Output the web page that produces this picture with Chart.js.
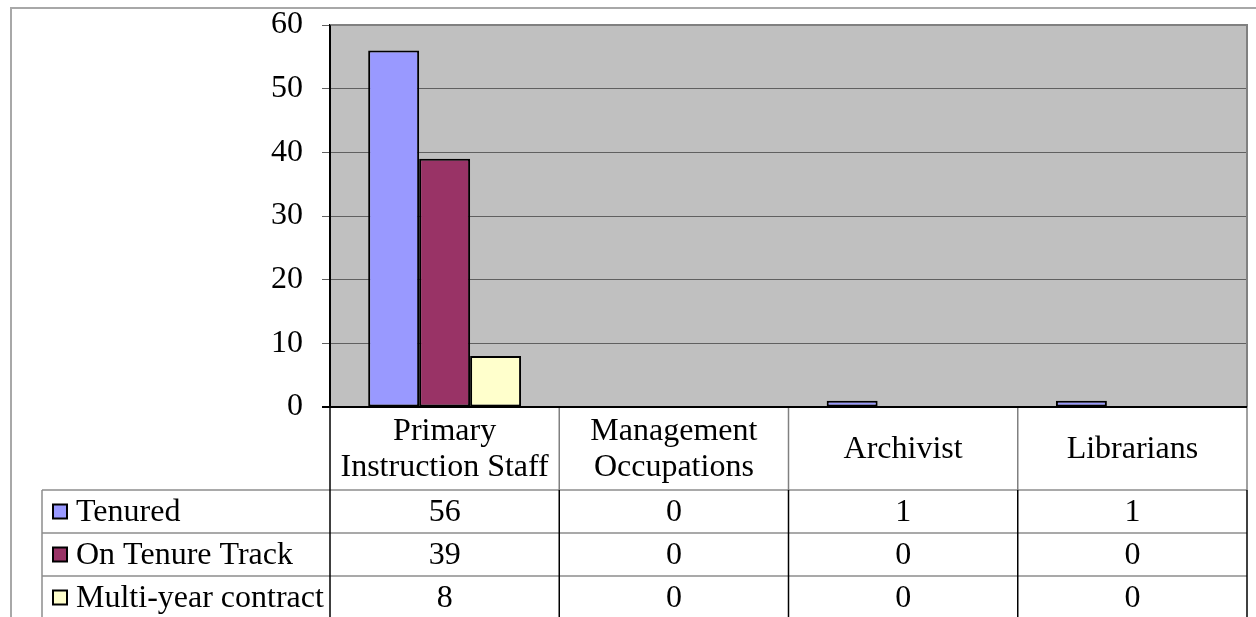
<!DOCTYPE html>
<html>
<head>
<meta charset="utf-8">
<script src="https://cdn.jsdelivr.net/npm/chart.js@4/dist/chart.umd.min.js"></script>
<style>
  body { margin: 0; background: #fff; }
  #wrap { width: 1256px; height: 617px; }
</style>
</head>
<body>
<div id="wrap"><canvas id="Chart1" width="1256" height="617"></canvas></div>
<script>
var categories = [['Primary', 'Instruction Staff'], ['Management', 'Occupations'], ['Archivist'], ['Librarians']];
var seriesNames = ['Tenured', 'On Tenure Track', 'Multi-year contract'];
var tenured = [56, 0, 1, 1];
var onTenureTrack = [39, 0, 0, 0];
var multiYear = [8, 0, 0, 0];
var yMin = 0, yMax = 60, yStep = 10;

var seriesColors = ['#9999ff', '#993366', '#ffffcc'];
var fontFamily = '"Liberation Serif", "Times New Roman", serif';
var fontSize = 32;

// table geometry below the plot
var tableLeft = 42;
var headerBottom = 490;
var rowHeight = 43;

var tablePlugin = {
  id: 'dataTable',
  beforeDraw: function (chart) {
    var ctx = chart.ctx, a = chart.chartArea;
    ctx.save();
    ctx.fillStyle = '#fff';
    ctx.fillRect(0, 0, chart.width, chart.height);
    ctx.fillStyle = '#c0c0c0';
    ctx.fillRect(a.left, a.top, a.right - a.left, a.bottom - a.top);
    ctx.restore();
  },
  afterDraw: function (chart) {
    var ctx = chart.ctx, a = chart.chartArea;
    var xs = chart.scales.x;
    var n = categories.length;
    var colW = (a.right - a.left) / n;
    var rows = [tenured, onTenureTrack, multiYear];
    var bottom = chart.height + 2;

    ctx.save();

    // outer frame
    ctx.strokeStyle = '#a8a8a8';
    ctx.lineWidth = 2;
    ctx.beginPath();
    ctx.moveTo(11, chart.height);
    ctx.lineTo(11, 8);
    ctx.lineTo(chart.width, 8);
    ctx.stroke();

    // plot frame top / right
    ctx.strokeStyle = '#808080';
    ctx.beginPath();
    ctx.moveTo(a.left, a.top);
    ctx.lineTo(a.right, a.top);
    ctx.lineTo(a.right, a.bottom);
    ctx.stroke();

    // horizontal table lines
    ctx.strokeStyle = '#8c8c8c';
    ctx.lineWidth = 1.5;
    for (var r = 0; r < rows.length; r++) {
      var y = headerBottom + r * rowHeight;
      ctx.beginPath();
      ctx.moveTo(tableLeft, y);
      ctx.lineTo(a.right, y);
      ctx.stroke();
    }
    ctx.beginPath();
    ctx.moveTo(tableLeft, headerBottom);
    ctx.lineTo(tableLeft, bottom);
    ctx.stroke();

    // column separators: gray in header, black in rows
    for (var c = 1; c <= n; c++) {
      var x = a.left + c * colW;
      ctx.strokeStyle = '#808080';
      ctx.lineWidth = 1.5;
      ctx.beginPath();
      ctx.moveTo(x, a.bottom);
      ctx.lineTo(x, headerBottom);
      ctx.stroke();
      ctx.strokeStyle = '#000';
      ctx.beginPath();
      ctx.moveTo(x, headerBottom);
      ctx.lineTo(x, bottom);
      ctx.stroke();
    }
    ctx.strokeStyle = '#000';
    ctx.lineWidth = 1.5;
    ctx.beginPath();
    ctx.moveTo(a.left, a.top);
    ctx.lineTo(a.left, bottom);
    ctx.stroke();

    // x axis line
    ctx.lineWidth = 2;
    ctx.beginPath();
    ctx.moveTo(a.left - 8, a.bottom);
    ctx.lineTo(a.right, a.bottom);
    ctx.stroke();

    ctx.fillStyle = '#000';
    ctx.font = fontSize + 'px ' + fontFamily;
    ctx.textAlign = 'center';
    ctx.textBaseline = 'middle';

    // category headers
    var headMid = (a.bottom + headerBottom) / 2 + 1;
    for (var i = 0; i < n; i++) {
      var cx = xs.getPixelForValue(i);
      var lines = categories[i];
      for (var k = 0; k < lines.length; k++) {
        var ly = headMid + (k - (lines.length - 1) / 2) * 36;
        ctx.fillText(lines[k], cx, ly);
      }
    }

    // rows
    for (var r = 0; r < rows.length; r++) {
      var my = headerBottom + r * rowHeight + rowHeight / 2 + 1;
      ctx.textAlign = 'left';
      ctx.fillStyle = seriesColors[r];
      ctx.fillRect(53, my - 8, 14, 14);
      ctx.strokeStyle = '#000';
      ctx.lineWidth = 2;
      ctx.strokeRect(53, my - 8, 14, 14);
      ctx.fillStyle = '#000';
      ctx.fillText(seriesNames[r], 76, my);
      ctx.textAlign = 'center';
      for (var i = 0; i < n; i++) {
        ctx.fillText(String(rows[r][i]), xs.getPixelForValue(i), my);
      }
    }

    ctx.restore();
  }
};

var chartData = {
  labels: categories,
  datasets: [tenured, onTenureTrack, multiYear].map(function (vals, i) {
    return {
      label: seriesNames[i],
      data: vals,
      backgroundColor: seriesColors[i],
      borderColor: '#000',
      borderWidth: 2,
      borderSkipped: false,
      categoryPercentage: 0.667,
      barPercentage: 1
    };
  })
};

var createChart1 = function () {
  var ctx = document.getElementById('Chart1');
  new Chart(ctx, {
    type: 'bar',
    data: chartData,
    options: {
      responsive: false,
      animation: false,
      devicePixelRatio: 1,
      layout: { padding: { top: 25, right: 9, bottom: 210, left: 0 } },
      plugins: {
        legend: { display: false },
        tooltip: { enabled: false }
      },
      scales: {
        x: { display: false },
        y: {
          min: yMin,
          max: yMax,
          afterFit: function (scale) {
            scale.width = 330;
            scale.paddingTop = 0;
            scale.paddingBottom = 0;
          },
          ticks: {
            stepSize: yStep,
            padding: 19,
            color: '#000',
            font: { family: fontFamily, size: fontSize }
          },
          grid: { color: '#606060', lineWidth: 1, tickLength: 8 },
          border: { display: true, color: '#000', width: 2 }
        }
      }
    },
    plugins: [tablePlugin]
  });
};

createChart1();
</script>
</body>
</html>
